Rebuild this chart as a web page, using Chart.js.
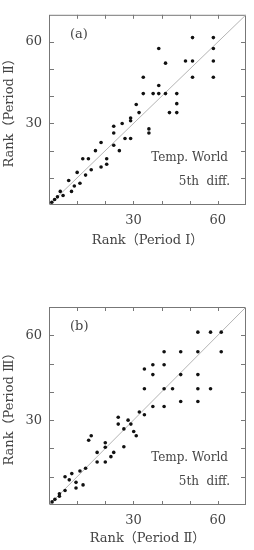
<!DOCTYPE html>
<html lang="ja">
<head>
<meta charset="UTF-8" />
<title>Rank scatter</title>
<style>
    body { margin: 0; background: #fff; }
    .box { position: absolute; left: 0; width: 254px; height: 275px; }
</style>
</head>
<body>
<div class="box" style="top:0"><canvas id="chartA" width="254" height="275"></canvas></div>
<div class="box" style="top:275px"><canvas id="chartB" width="254" height="275"></canvas></div>

<script src="https://cdn.jsdelivr.net/npm/chart.js"></script>
<script>
    // (a) Period I vs Period II
    const aPeriodI  = [1, 2, 3, 5, 4, 8, 7, 9, 11, 10, 13, 15, 12, 14, 16.5, 18.5, 18.5, 20.5, 20.5, 23, 25, 23, 23, 26, 27, 29, 29, 29, 31, 32, 35.5, 35.5, 33.5, 33.5, 37, 39, 41.4, 45.4, 39, 39, 41.4, 42.8, 45.4, 45.4, 48.5, 51, 58.4, 51, 58.4, 58.4, 51, 58.4];
    const aPeriodII = [1, 2, 3, 3.5, 5, 5, 9, 7, 8, 12, 11, 13, 17, 17, 20, 23, 14, 17, 15, 22, 20, 29, 26.5, 30, 24.5, 24.5, 32, 31, 37, 34, 28, 26.5, 47, 41, 41, 41, 41, 41, 44, 57.6, 52.2, 34, 34, 37.3, 53, 53, 53, 61.6, 61.6, 57.6, 47, 47];

    // (b) Period II vs Period III
    const bPeriodII  = [1.1, 2.1, 3.7, 3.7, 5.7, 9.6, 12.1, 9.6, 7.2, 5.7, 8.1, 11, 13, 17.1, 20, 22, 17.1, 23, 20, 20, 14.1, 15, 26.6, 26.6, 24.6, 24.6, 28.1, 29.1, 30.1, 31, 32.1, 33.9, 36.9, 40.9, 46.8, 52.9, 33.9, 40.9, 43.9, 52.9, 57.4, 36.9, 46.8, 52.9, 33.9, 36.9, 40.9, 40.9, 46.8, 52.9, 61.2, 52.9, 57.4, 61.2];
    const bPeriodIII = [1.1, 2, 3.1, 4, 5.1, 6, 7.1, 8, 8.9, 10, 11.1, 12, 13, 15.2, 15.2, 17.1, 18.6, 18.6, 20.4, 22, 22.9, 24.5, 20.6, 26.9, 28.6, 31, 30, 28.6, 26, 24.5, 32.9, 31.9, 34.8, 34.8, 36.6, 36.6, 41.1, 41.1, 41.1, 41.1, 41.1, 46.1, 46.1, 46.1, 48.1, 49.6, 49.6, 54.2, 54.2, 54.2, 54.2, 61.1, 61.1, 61.1];

    const axisMin = 0;
    const axisMax = 70;
    const tickLabels = [30, 60];

    const serif = "'DejaVu Serif', 'Noto Sans CJK JP', serif";
    const textColor = '#444';

    // frame with inward ticks + panel texts
    const framePlugin = {
        id: 'frame',
        beforeDatasetsDraw(chart, args, opts) {
            const { ctx, chartArea: a, scales } = chart;
            ctx.save();
            ctx.strokeStyle = '#777';
            ctx.lineWidth = 1;
            ctx.strokeRect(a.left + 0.5, a.top + 0.5, a.right - a.left - 1, a.bottom - a.top - 1);
            ctx.beginPath();
            for (let v = axisMin + 10; v < axisMax; v += 10) {
                const x = Math.round(scales.x.getPixelForValue(v)) + 0.5;
                ctx.moveTo(x, a.top); ctx.lineTo(x, a.top + 4);
                ctx.moveTo(x, a.bottom); ctx.lineTo(x, a.bottom - 4);
                const y = Math.round(scales.y.getPixelForValue(v)) + 0.5;
                ctx.moveTo(a.left, y); ctx.lineTo(a.left + 5, y);
                ctx.moveTo(a.right, y); ctx.lineTo(a.right - 5, y);
            }
            ctx.stroke();

            ctx.fillStyle = textColor;
            ctx.font = "13px " + serif;
            ctx.textBaseline = 'middle';
            ctx.textAlign = 'left';
            ctx.fillText(opts.panel, a.left + 21, a.top + 20);
            ctx.font = "12px " + serif;
            ctx.textAlign = 'right';
            ctx.fillText('Temp. World', a.right - 18, a.bottom - 47);
            ctx.fillText('5th  diff.', a.right - 16, a.bottom - 23);
            ctx.restore();
        }
    };

    function makeChart(id, xs, ys, xTitle, yTitle, panel, padTop, xAxisH, xTitlePad) {
        const pts = xs.map((x, i) => ({ x: x, y: ys[i] }));
        return new Chart(document.getElementById(id), {
            type: 'scatter',
            data: {
                datasets: [{
                    data: pts,
                    backgroundColor: '#111',
                    borderWidth: 0,
                    pointRadius: 1.8
                }, {
                    type: 'line',
                    data: [{ x: axisMin, y: axisMin }, { x: axisMax, y: axisMax }],
                    borderColor: '#b4b4b4',
                    borderWidth: 1,
                    pointRadius: 0
                }]
            },
            options: {
                responsive: false,
                animation: false,
                layout: { padding: { left: 0, right: 5, top: padTop, bottom: 0 } },
                plugins: {
                    legend: { display: false },
                    tooltip: { enabled: false },
                    frame: { panel: panel }
                },
                scales: {
                    x: {
                        type: 'linear', min: axisMin, max: axisMax,
                        grid: { display: false, drawTicks: false },
                        border: { display: false },
                        ticks: {
                            stepSize: 10, autoSkip: false, maxRotation: 0, padding: 8,
                            color: textColor, font: { family: serif, size: 13 },
                            callback: v => tickLabels.includes(v) ? String(v) : ''
                        },
                        title: {
                            display: true, text: xTitle, color: textColor,
                            font: { family: serif, size: 13 }, padding: { top: 0, bottom: xTitlePad }
                        },
                        afterFit: s => { s.height = xAxisH; }
                    },
                    y: {
                        type: 'linear', min: axisMin, max: axisMax,
                        grid: { display: false, drawTicks: false },
                        border: { display: false },
                        ticks: {
                            stepSize: 10, autoSkip: false, padding: 7,
                            color: textColor, font: { family: serif, size: 13 },
                            callback: v => tickLabels.includes(v) ? String(v) : ''
                        },
                        title: {
                            display: true, text: yTitle, color: textColor,
                            font: { family: serif, size: 13 }, padding: { top: 2, bottom: 0 }
                        },
                        afterFit: s => { s.width = 49; }
                    }
                }
            },
            plugins: [framePlugin]
        });
    }

    makeChart('chartA', aPeriodI, aPeriodII, 'Rank（Period Ⅰ）', 'Rank（Period Ⅱ）', '(a)', 7, 70, 27);
    makeChart('chartB', bPeriodII, bPeriodIII, 'Rank（Period Ⅱ）', 'Rank（Period Ⅲ）', '(b)', 32, 45, 4);
</script>
</body>
</html>
